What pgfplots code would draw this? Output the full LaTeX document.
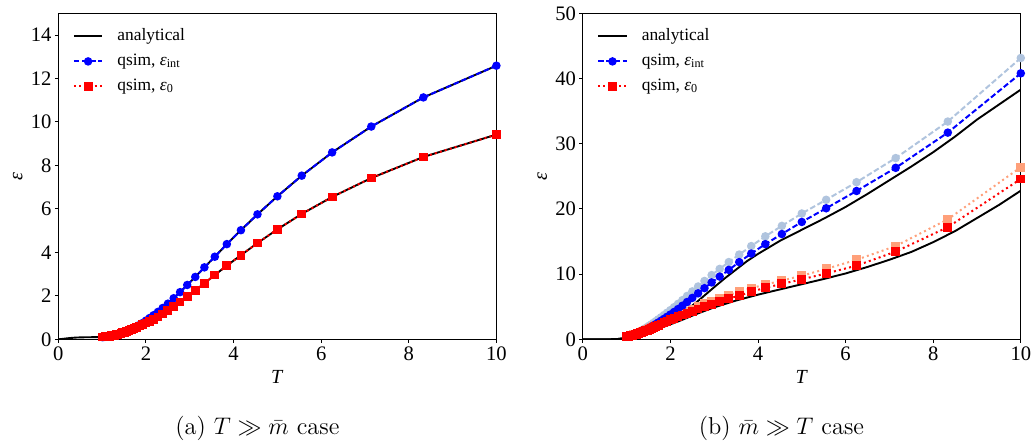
\documentclass[border=0pt]{standalone}
\usepackage{fontspec}
\setmainfont{Liberation Serif}
\usepackage{pgfplots}
\pgfplotsset{compat=1.18}
\usepackage{pgfplotstable}

\definecolor{qblue}{RGB}{0,0,255}
\definecolor{qred}{RGB}{255,0,0}
\definecolor{lblue}{RGB}{176,196,222}
\definecolor{lred}{RGB}{255,160,122}

% T = 1/beta, beta = 0.10, 0.12, ..., 1.00
\pgfplotstableread{
T      ei     e0
10.000 12.59  9.42
8.333  11.13  8.39
7.143  9.79   7.42
6.250  8.60   6.55
5.556  7.53   5.77
5.000  6.58   5.06
4.545  5.75   4.43
4.167  5.02   3.87
3.846  4.38   3.39
3.571  3.80   2.96
3.333  3.31   2.58
3.125  2.87   2.25
2.941  2.50   1.97
2.778  2.17   1.72
2.632  1.89   1.50
2.500  1.64   1.31
2.381  1.44   1.16
2.273  1.26   1.03
2.174  1.11   0.92
2.083  0.98   0.83
2.000  0.86   0.75
1.923  0.75   0.68
1.852  0.66   0.615
1.786  0.59   0.555
1.724  0.53   0.50
1.667  0.48   0.45
1.613  0.43   0.405
1.563  0.385  0.365
1.515  0.345  0.33
1.471  0.31   0.30
1.429  0.28   0.272
1.389  0.253  0.247
1.351  0.23   0.225
1.316  0.21   0.206
1.282  0.193  0.19
1.250  0.178  0.176
1.220  0.165  0.163
1.190  0.153  0.152
1.163  0.143  0.142
1.136  0.135  0.134
1.111  0.128  0.127
1.087  0.121  0.120
1.064  0.116  0.115
1.042  0.111  0.110
1.020  0.107  0.106
1.000  0.103  0.102
}\highT

\pgfplotstableread{
T      lb     db     lr     dr
10.000 43.15  40.8   26.4   24.6
8.333  33.4   31.7   18.4   17.2
7.143  27.8   26.3   14.3   13.45
6.250  24.1   22.75  12.2   11.3
5.556  21.4   20.1   10.8   10.1
5.000  19.3   18.0   9.75   9.2
4.545  17.4   16.15  9.0    8.5
4.167  15.8   14.6   8.4    7.9
3.846  14.3   13.15  7.85   7.3
3.571  13.0   11.85  7.3    6.7
3.333  11.85  10.65  6.8    6.25
3.125  10.8   9.62   6.3    5.8
2.941  9.85   8.72   5.88   5.4
2.778  8.95   7.85   5.44   5.02
2.632  8.1    7.05   5.02   4.65
2.500  7.35   6.35   4.62   4.3
2.381  6.65   5.72   4.29   4.0
2.273  6.01   5.15   3.99   3.72
2.174  5.44   4.64   3.71   3.46
2.083  4.93   4.19   3.44   3.21
2.000  4.48   3.8    3.19   2.98
1.923  4.08   3.45   2.95   2.76
1.852  3.71   3.13   2.73   2.55
1.786  3.37   2.84   2.52   2.35
1.724  3.06   2.57   2.32   2.16
1.667  2.78   2.33   2.14   1.99
1.613  2.52   2.11   1.97   1.83
1.563  2.28   1.91   1.81   1.68
1.515  2.07   1.73   1.66   1.54
1.471  1.88   1.57   1.52   1.41
1.429  1.70   1.42   1.39   1.29
1.389  1.54   1.29   1.27   1.18
1.351  1.39   1.17   1.16   1.08
1.316  1.27   1.07   1.06   0.99
1.282  1.16   0.98   0.97   0.91
1.250  1.06   0.90   0.90   0.84
1.220  0.97   0.83   0.82   0.77
1.190  0.89   0.77   0.76   0.71
1.163  0.82   0.71   0.70   0.66
1.136  0.76   0.66   0.65   0.61
1.111  0.70   0.62   0.60   0.57
1.087  0.65   0.58   0.56   0.53
1.064  0.61   0.55   0.52   0.50
1.042  0.57   0.52   0.49   0.47
1.020  0.53   0.49   0.46   0.44
1.000  0.50   0.47   0.44   0.42
}\highM

\pgfplotsset{
  panel/.style={
    scale only axis, width=219pt, height=163pt,
    xmin=0, xmax=10, ymin=0,
    xtick={0,2,...,10},
    axis line style={line width=0.5pt},
    tick style={line width=0.5pt, black},
    tick align=outside, major tick length=1.75pt,
    xtick pos=left, ytick pos=left,
    /pgf/number format/assume math mode=true,
    ticklabel style={font=\fontsize{10.3}{12}\selectfont},
    xticklabel style={inner sep=2pt},
    yticklabel style={inner sep=1.5pt},
    label style={font=\fontsize{10.8}{12}\selectfont},
    xlabel={\textit{T}}, ylabel={\textit{ε}},
    every axis x label/.style={at={([yshift=-18.8pt]axis description cs:0.5,0)}, anchor=center},
    every axis y label/.style={at={([xshift=-20.3pt]axis description cs:0,0.5)}, anchor=center, rotate=90},
    legend style={at={(axis description cs:0,1)}, anchor=north west,
      draw=none, fill=none, inner sep=0pt, xshift=7pt, yshift=-7.1pt,
      font=\fontsize{8.7}{10}\selectfont,
      nodes={inner sep=0pt, text height=6.5pt, text depth=2pt},
      row sep=4pt,
      /tikz/every odd column/.append style={column sep=7pt}},
    legend cell align=left,
    legend image code/.code={\draw[mark repeat=2, mark phase=2, #1]
      plot coordinates {(0pt,0pt) (7.15pt,0pt) (14.3pt,0pt)};},
  },
  ana/.style={black, line width=0.95pt, mark=none},
  qint/.style={qblue, line width=1pt, dash pattern=on 2.8pt off 1.3pt,
    mark=*, mark size=1.6pt, mark options={solid, fill=qblue, draw=qblue}},
  qzero/.style={qred, line width=1pt, dash pattern=on 1pt off 1.6pt,
    mark=square*, mark size=1.7pt, mark options={solid, fill=qred, draw=qred}},
}

\begin{document}
\begin{tikzpicture}
%% (a) T >> m case
\begin{axis}[panel, at={(0pt,0pt)}, anchor=south west,
  ymax=15, ytick={0,2,...,14}]
  \addplot[ana] table[x=T, y=ei] {\highT};
  \addlegendentry{analytical}
  \addplot[ana, forget plot] coordinates {
    (0,0) (0.1,0.02) (0.2,0.045) (0.3,0.065) (0.4,0.08) (0.5,0.088)
    (0.6,0.093) (0.7,0.096) (0.8,0.098) (0.9,0.1) (1.0,0.103)};
  \addplot[ana, forget plot] table[x=T, y=e0] {\highT};
  \addplot[qint] table[x=T, y=ei] {\highT};
  \addlegendentry{qsim, \textit{ε}\textsubscript{int}}
  \addplot[qzero] table[x=T, y=e0] {\highT};
  \addlegendentry{qsim, \textit{ε}\textsubscript{0}}
\end{axis}
\node[font=\fontfamily{lmr}\fontsize{12.2}{14}\selectfont] at (99.5pt,-44.4pt)
  {(a) $T \gg \bar{m}$ case};

%% (b) m >> T case
\begin{axis}[panel, at={(262.2pt,0pt)}, anchor=south west,
  ymax=50, ytick={0,10,...,50}]
  \addplot[ana] coordinates {
    (0,0) (0.4,0) (0.6,0.005) (0.8,0.05) (0.9,0.14) (1.0,0.3) (1.2,0.62)
    (1.4,1.0) (1.6,1.5) (1.8,2.15) (2.0,2.9) (2.2,3.75) (2.4,4.65)
    (2.6,5.7) (2.8,6.85) (3.0,8.0) (3.25,9.4) (3.5,10.7) (3.75,12.0)
    (4.0,13.1) (4.5,15.1) (5.0,16.8) (5.5,18.5) (6.0,20.3) (6.5,22.3)
    (7.0,24.4) (7.5,26.5) (8.0,28.7) (8.5,31.1) (9.0,33.7) (9.5,36.0)
    (10,38.3)};
  \addlegendentry{analytical}
  \addplot[ana, forget plot] coordinates {
    (0,0) (0.4,0) (0.6,0.005) (0.8,0.05) (0.9,0.14) (1.0,0.3) (1.2,0.6)
    (1.4,0.95) (1.6,1.35) (1.8,1.8) (2.0,2.3) (2.2,2.8) (2.4,3.35)
    (2.6,3.9) (2.8,4.4) (3.0,4.9) (3.5,5.95) (4.0,6.85) (4.5,7.65)
    (5.0,8.45) (5.5,9.25) (6.0,10.1) (6.5,11.1) (7.0,12.2) (7.5,13.4)
    (8.0,14.9) (8.5,16.6) (9.0,18.6) (9.5,20.6) (10,22.8)};
  \addplot[qint, lblue, mark options={solid, fill=lblue, draw=lblue}, forget plot]
    table[x=T, y=lb] {\highM};
  \addplot[qzero, lred, mark options={solid, fill=lred, draw=lred}, forget plot]
    table[x=T, y=lr] {\highM};
  \addplot[qint] table[x=T, y=db] {\highM};
  \addlegendentry{qsim, \textit{ε}\textsubscript{int}}
  \addplot[qzero] table[x=T, y=dr] {\highM};
  \addlegendentry{qsim, \textit{ε}\textsubscript{0}}
\end{axis}
\node[font=\fontfamily{lmr}\fontsize{12.2}{14}\selectfont] at (361.5pt,-44.4pt)
  {(b) $\bar{m} \gg T$ case};

\pgfresetboundingbox
\useasboundingbox (-29.2pt,-50.85pt) rectangle (486.8pt,169.65pt);
\end{tikzpicture}
\end{document}
